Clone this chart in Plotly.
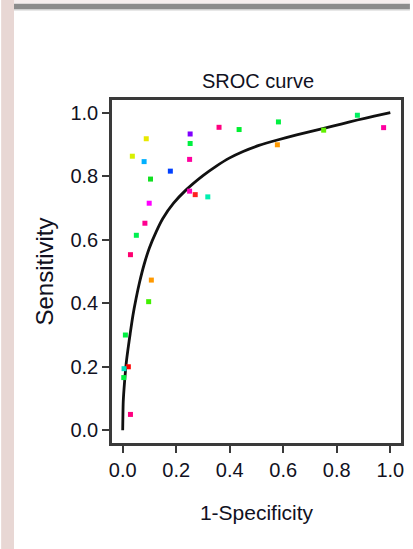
import plotly.graph_objects as go

# Study points (1-Specificity, Sensitivity) and their colours
fpr = [0.088, 0.252, 0.252, 0.360, 0.435, 0.036, 0.080, 0.250, 0.178, 0.104,
       0.250, 0.271, 0.318, 0.099, 0.083, 0.051, 0.029, 0.582, 0.578, 0.751,
       0.877, 0.975, 0.107, 0.097, 0.010, 0.021, 0.005, 0.004, 0.029]
tpr = [0.918, 0.933, 0.903, 0.954, 0.947, 0.863, 0.846, 0.853, 0.816, 0.791,
       0.753, 0.742, 0.735, 0.715, 0.652, 0.614, 0.553, 0.971, 0.899, 0.945,
       0.992, 0.953, 0.473, 0.405, 0.300, 0.200, 0.194, 0.166, 0.050]
colors = ["#e8e800", "#8000ff", "#00f040", "#ff0080", "#00f030", "#d8f000", "#00b0ff", "#ff00a0", "#0040ff", "#10e020",
          "#ff00c0", "#ff2020", "#00f0b0", "#ff00ff", "#ff0090", "#00f050", "#ff0070", "#00f040", "#ff9900", "#60f000",
          "#00f060", "#ff00a0", "#ff9900", "#40f000", "#00f040", "#ff0000", "#00e0c0", "#00f040", "#ff0080"]

# SROC curve
curve_x = [0.0, 0.002, 0.007, 0.013, 0.020, 0.028, 0.038, 0.050, 0.063, 0.080, 0.100, 0.125, 0.150, 0.190,
           0.237, 0.300, 0.350, 0.398, 0.450, 0.509, 0.578, 0.650, 0.751, 0.820, 0.877, 0.940, 1.0]
curve_y = [0.0, 0.090, 0.153, 0.210, 0.257, 0.305, 0.361, 0.415, 0.466, 0.522, 0.575, 0.625, 0.667, 0.715,
           0.757, 0.802, 0.832, 0.857, 0.878, 0.897, 0.914, 0.930, 0.951, 0.965, 0.977, 0.989, 1.0]

tick_vals = [0.0, 0.2, 0.4, 0.6, 0.8, 1.0]
tick_text = ["0.0", "0.2", "0.4", "0.6", "0.8", "1.0"]

W, H = 413, 549
L, R, T, B = 112, 404, 100, 443

fig = go.Figure()
fig.add_trace(go.Scatter(x=curve_x, y=curve_y, mode="lines",
                         line=dict(color="#111111", width=2.8, shape="spline", smoothing=0.6),
                         hoverinfo="skip", showlegend=False))
fig.add_trace(go.Scatter(x=fpr, y=tpr, mode="markers",
                         marker=dict(symbol="square", size=5, color=colors, line=dict(width=0)),
                         showlegend=False))

font = "Liberation Sans, Arial, Helvetica, sans-serif"
axis_common = dict(range=[-0.04, 1.04], tickvals=tick_vals, ticktext=tick_text,
                   showgrid=False, zeroline=False, showline=True, mirror=True,
                   linecolor="#3a3a3a", linewidth=2.5, ticks="outside", ticklen=7,
                   tickwidth=2, tickcolor="#3a3a3a",
                   tickfont=dict(family=font, size=20, color="#111122"))

fig.update_layout(
    width=W, height=H,
    margin=dict(l=L, r=W - R, t=T, b=H - B, pad=0),
    paper_bgcolor="white", plot_bgcolor="white",
    title=dict(text="SROC curve", x=(L + R) / 2 / W, xanchor="center",
               y=1 - 81 / H, yanchor="middle",
               font=dict(family=font, size=20, color="#111122")),
    xaxis=dict(**axis_common,
               title=dict(text="1-Specificity", standoff=26,
                          font=dict(family=font, size=21, color="#111122"))),
    yaxis=dict(**axis_common,
               title=dict(text="Sensitivity", standoff=11,
                          font=dict(family=font, size=24, color="#111122"))),
)

def px_to_paper_x(px):
    return (px - L) / (R - L)

def px_to_paper_y(py):
    return (B - py) / (B - T)

# Page decorations around the chart
fig.add_shape(type="rect", xref="paper", yref="paper", layer="above",
              x0=px_to_paper_x(0), x1=px_to_paper_x(13), y0=px_to_paper_y(H), y1=px_to_paper_y(0),
              fillcolor="#e8d7d4", line=dict(width=0))
fig.add_shape(type="rect", xref="paper", yref="paper", layer="above",
              x0=px_to_paper_x(13), x1=px_to_paper_x(W), y0=px_to_paper_y(10.5), y1=px_to_paper_y(9),
              fillcolor="#cfcfcf", line=dict(width=0))
fig.add_shape(type="rect", xref="paper", yref="paper", layer="above",
              x0=px_to_paper_x(13), x1=px_to_paper_x(W), y0=px_to_paper_y(9), y1=px_to_paper_y(3.5),
              fillcolor="#8c8c8c", line=dict(width=0))
fig.add_shape(type="rect", xref="paper", yref="paper", layer="above",
              x0=px_to_paper_x(13), x1=px_to_paper_x(W), y0=px_to_paper_y(3.5), y1=px_to_paper_y(0),
              fillcolor="#f6eeee", line=dict(width=0))

fig.write_html("out.html", config={"displayModeBar": False},
               post_script="document.body.style.margin='0px';document.body.style.overflow='hidden';")
